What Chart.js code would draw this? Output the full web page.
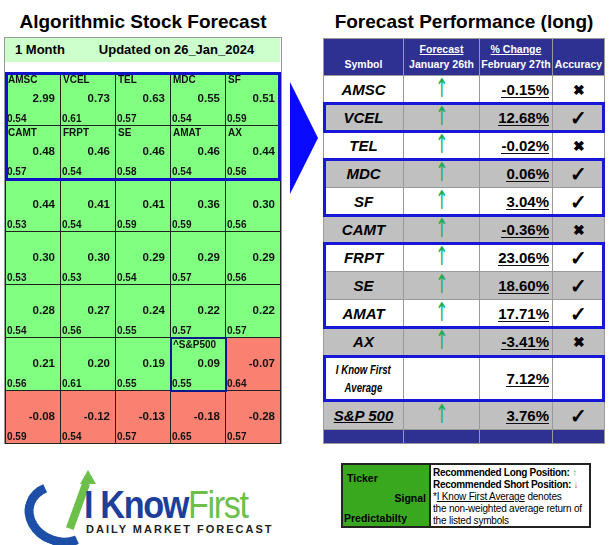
<!DOCTYPE html>
<html>
<head>
<meta charset="utf-8">
<script src="https://cdn.jsdelivr.net/npm/chart.js@4"></script>
<style>
body{margin:0;width:612px;height:545px;background:#fff;font-family:"Liberation Sans",Arial,sans-serif;position:relative;overflow:hidden}
.abs{position:absolute}
h1{position:absolute;margin:0;font-size:19px;font-weight:bold;text-align:center}
#tbl{position:absolute;left:323px;top:38px;border-collapse:collapse;font-weight:bold;table-layout:fixed}
#tbl td{padding:0;border:1px solid #9a9a9a;text-align:center;font-size:15px;height:27px;line-height:20px;overflow:hidden}
#tbl th{background:#2e3192;color:#fff;font-size:10.5px;height:31px;border:1px solid #9a9a9a;vertical-align:bottom;padding:0 0 5px 0;line-height:12px}
#tbl th u{display:block;margin-bottom:3px}
.sym{font-style:italic}
.pct{text-align:right!important;padding-right:3px!important}
.pct span{border-bottom:1.5px solid #111;line-height:15px;display:inline-block}
.up{color:#1faa55;font-weight:normal}
.up span{font-size:26px;font-family:"DejaVu Sans";transform:scaleX(0.6);display:inline-block;line-height:22px}
.box{position:absolute;border:3px solid #1717d6;box-sizing:border-box}
.narrow{display:inline-block;transform:scaleX(0.8);transform-origin:center}
</style>
</head>
<body>
<h1 style="left:0;width:286px;top:11px">Algorithmic Stock Forecast</h1>
<h1 style="left:323px;width:282px;top:11px">Forecast Performance (long)</h1>

<div class="abs" style="left:4px;top:37px;width:276px;height:406px;border:1px solid #999;border-bottom:none"></div>
<div class="abs" style="left:5px;top:38px;width:275px;height:24px;background:#ccffcc;font-weight:bold;font-size:13px;line-height:24px">
 <span style="margin-left:10px">1 Month</span><span style="margin-left:34px">Updated on 26_Jan_2024</span></div>

<div class="abs" style="left:5px;top:72px;width:276px;height:372px"><canvas id="grid"></canvas></div>

<div class="abs" style="left:290px;top:82px;width:0;height:0;border-top:56px solid transparent;border-bottom:56px solid transparent;border-left:28px solid #0a0aff"></div>

<table id="tbl">
<colgroup><col style="width:80px"><col style="width:76px"><col style="width:73px"><col style="width:52px"></colgroup>
<tr><th>Symbol</th><th><u>Forecast</u>January 26th</th><th><u>% Change</u>February 27th</th><th>Accuracy</th></tr>
<tbody id="rows"></tbody>
</table>
<div class="box" style="left:323px;top:102px;width:282px;height:31px"></div>
<div class="box" style="left:323px;top:158px;width:282px;height:59px"></div>
<div class="box" style="left:323px;top:242px;width:282px;height:87px"></div>
<div class="box" style="left:323px;top:355px;width:282px;height:47px"></div>

<!-- logo -->
<div class="abs" style="left:22px;top:470px;width:70px;height:62px">
 <div class="abs" style="left:2px;top:12px;width:56px;height:46px;border-radius:50%;border:9px solid #1d4fa8;border-right-color:transparent;border-top-color:transparent;transform:rotate(20deg)"></div>
 <div class="abs" style="left:18px;top:0;width:0;height:0;border-left:8px solid transparent;border-right:8px solid transparent;border-bottom:14px solid #6cc04a;transform:translateX(40px)"></div>
 <div class="abs" style="left:52px;top:12px;width:8px;height:48px;background:#6cc04a;transform:rotate(20deg)"></div>
</div>
<div class="abs" style="left:84px;top:486px;font-size:38px;line-height:38px;letter-spacing:-1.5px;transform:scaleX(0.9);transform-origin:left"><span style="color:#1d3f9a;font-weight:bold">I Know</span><span style="color:#6cc04a">First</span></div>
<div class="abs" style="left:86px;top:523px;font-size:11px;font-weight:bold;letter-spacing:2px;color:#222">DAILY MARKET FORECAST</div>

<!-- legend -->
<div class="abs" style="left:341px;top:463px;width:86px;height:61px;background:#3aa81f;border:2px solid #222;font-weight:bold;font-size:10.5px">
 <div class="abs" style="left:4px;top:7px">Ticker</div>
 <div class="abs" style="right:3px;top:27px">Signal</div>
 <div class="abs" style="left:1px;top:47px">Predictabilty</div>
</div>
<div class="abs" style="left:429px;top:463px;width:162px;height:65px;border:2px solid #222;border-left:none;font-size:10px;line-height:12px;padding:2px 4px;box-sizing:border-box;white-space:nowrap;overflow:hidden">
 <b style="letter-spacing:-0.3px">Recommended Long Position: <span style="color:#1faa55">↑</span></b><br>
 <b style="letter-spacing:-0.3px">Recommended Short Position: <span style="color:#e33">↓</span></b><br>
 <span style="letter-spacing:-0.2px">*<u>I Know First Average</u> denotes<br>the non-weighted average return of<br>the listed symbols</span>
</div>

<script>
// left heatmap, row by row
var tickers = [
  ['AMSC','VCEL','TEL','MDC','SF'],
  ['CAMT','FRPT','SE','AMAT','AX'],
  ['','','','',''],
  ['','','','',''],
  ['','','','',''],
  ['','','','^S&P500',''],
  ['','','','','']
];
var signals = [
  [2.99,0.73,0.63,0.55,0.51],
  [0.48,0.46,0.46,0.46,0.44],
  [0.44,0.41,0.41,0.36,0.30],
  [0.30,0.30,0.29,0.29,0.29],
  [0.28,0.27,0.24,0.22,0.22],
  [0.21,0.20,0.19,0.09,-0.07],
  [-0.08,-0.12,-0.13,-0.18,-0.28]
];
var predict = [
  [0.54,0.61,0.57,0.54,0.59],
  [0.57,0.54,0.58,0.54,0.56],
  [0.53,0.54,0.59,0.59,0.56],
  [0.53,0.53,0.54,0.57,0.56],
  [0.54,0.56,0.55,0.57,0.57],
  [0.56,0.61,0.55,0.55,0.64],
  [0.59,0.54,0.57,0.65,0.57]
];

// right table
var perfSymbols = ['AMSC','VCEL','TEL','MDC','SF','CAMT','FRPT','SE','AMAT','AX'];
var perfChange = [-0.15,12.68,-0.02,0.06,3.04,-0.36,23.06,18.60,17.71,-3.41];
var ikfAverage = 7.12;
var sp500Change = 3.76;

var rows = document.getElementById('rows');
var html = '';
perfSymbols.forEach(function (s, i) {
  var bg = i % 2 ? '#c0c0c0' : '#fff';
  var ok = perfChange[i] > 0;
  html += '<tr style="background:' + bg + '"><td class="sym">' + s + '</td><td class="up"><span>↑</span></td>' +
    '<td class="pct"><span>' + perfChange[i].toFixed(2) + '%</span></td>' +
    '<td style="font-size:' + (ok ? 20 : 14) + 'px">' + (ok ? '✓' : '✖') + '</td></tr>';
});
html += '<tr style="background:#fff"><td style="height:45px;font-size:12px;font-style:italic;text-decoration:underline;line-height:18px"><span class="narrow">I Know First<br>Average</span></td><td></td>' +
  '<td class="pct"><span>' + ikfAverage.toFixed(2) + '%</span></td><td></td></tr>';
html += '<tr style="background:#c0c0c0"><td class="sym" style="text-decoration:underline">S&amp;P 500</td><td class="up"><span>↑</span></td>' +
  '<td class="pct"><span>' + sp500Change.toFixed(2) + '%</span></td><td style="font-size:20px">✓</td></tr>';
html += '<tr style="background:#2e3192"><td style="height:13px;line-height:0;font-size:0"></td><td style="height:13px;line-height:0"></td><td style="height:13px;line-height:0"></td><td style="height:13px;line-height:0"></td></tr>';
rows.innerHTML = html;

var points = [];
signals.forEach(function (r, i) {
  r.forEach(function (v, j) { points.push({x: j + 0.5, y: i + 0.5, r: i, c: j}); });
});

var cellPlugin = {
  id: 'cells',
  afterDatasetsDraw: function (chart) {
    var ctx = chart.ctx, xs = chart.scales.x, ys = chart.scales.y;
    points.forEach(function (p) {
      var x0 = xs.getPixelForValue(p.c), x1 = xs.getPixelForValue(p.c + 1);
      var y0 = ys.getPixelForValue(p.r), y1 = ys.getPixelForValue(p.r + 1);
      var v = signals[p.r][p.c];
      ctx.fillStyle = v < 0 ? '#fa8072' : '#80ff80';
      ctx.fillRect(x0, y0, x1 - x0, y1 - y0);
      ctx.strokeStyle = '#222'; ctx.lineWidth = 1;
      ctx.strokeRect(x0 + 0.5, y0 + 0.5, x1 - x0, y1 - y0);
      ctx.fillStyle = '#111';
      ctx.font = 'bold 10px "Liberation Sans"';
      ctx.textBaseline = 'top'; ctx.textAlign = 'left';
      ctx.fillText(tickers[p.r][p.c], x0 + 3, y0 + 3);
      ctx.textBaseline = 'bottom';
      ctx.fillText(predict[p.r][p.c].toFixed(2), x0 + 2, y1 - 1);
      ctx.font = 'bold 11.5px "Liberation Sans"';
      ctx.textAlign = 'right'; ctx.textBaseline = 'middle';
      ctx.fillText(v.toFixed(2), x1 - 5, (y0 + y1) / 2);
    });
    ctx.strokeStyle = '#1010c8'; ctx.lineWidth = 3;
    var bx0 = xs.getPixelForValue(0), bx1 = xs.getPixelForValue(5);
    ctx.strokeRect(bx0 + 1.5, ys.getPixelForValue(0) + 1.5, bx1 - bx0 - 2, ys.getPixelForValue(2) - ys.getPixelForValue(0));
    ctx.strokeStyle = '#0a1a8a'; ctx.lineWidth = 2;
    ctx.strokeRect(xs.getPixelForValue(3) + 1, ys.getPixelForValue(5) + 1,
      xs.getPixelForValue(4) - xs.getPixelForValue(3), ys.getPixelForValue(6) - ys.getPixelForValue(5));
  }
};

new Chart(document.getElementById('grid'), {
  type: 'scatter',
  data: {datasets: [{data: points, pointRadius: 0}]},
  options: {
    responsive: true, maintainAspectRatio: false, animation: false,
    layout: {padding: {left: 0, right: 1, top: 0, bottom: 1}},
    plugins: {legend: {display: false}, tooltip: {enabled: false}},
    scales: {
      x: {type: 'linear', min: 0, max: 5, display: false},
      y: {type: 'linear', min: 0, max: 7, reverse: true, display: false}
    }
  },
  plugins: [cellPlugin]
});
</script>
</body>
</html>
